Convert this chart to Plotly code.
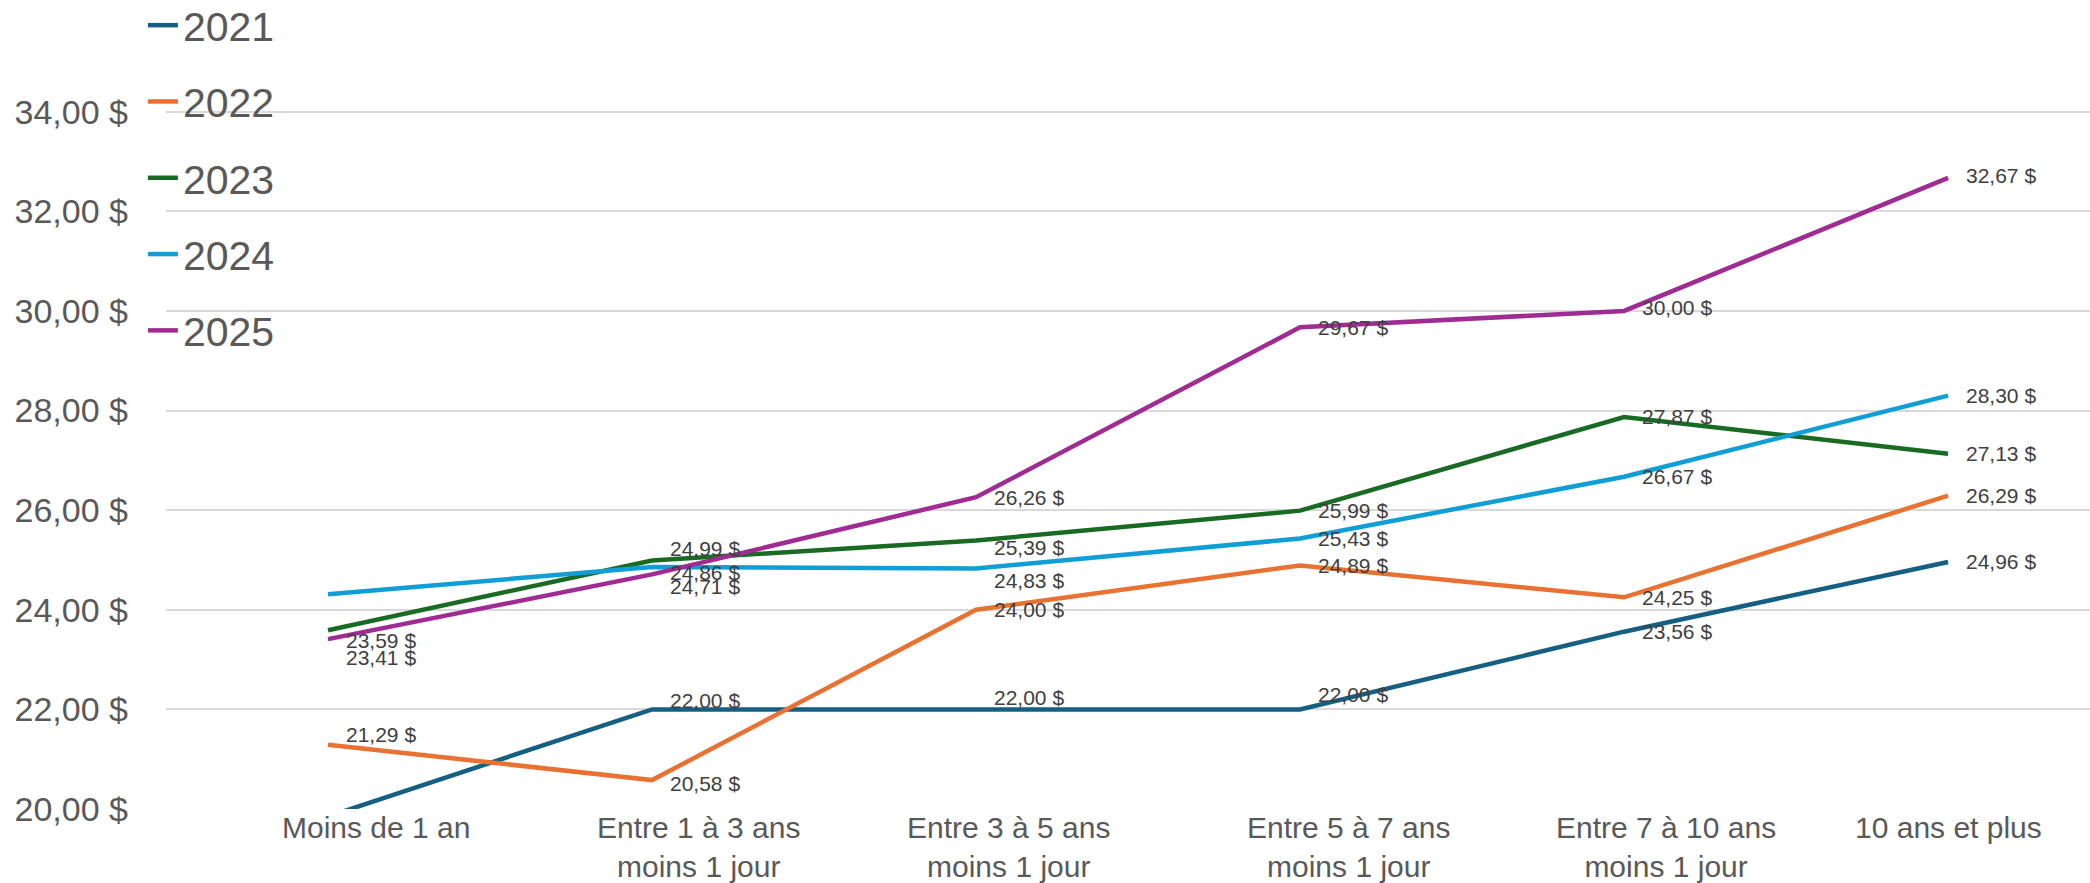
import plotly.graph_objects as go

# ---------- Data ----------
categories = [
    "Moins de 1 an",
    "Entre 1 à 3 ans<br>moins 1 jour",
    "Entre 3 à 5 ans<br>moins 1 jour",
    "Entre 5 à 7 ans<br>moins 1 jour",
    "Entre 7 à 10 ans<br>moins 1 jour",
    "10 ans et plus",
]

years = ["2021", "2022", "2023", "2024", "2025"]

y2021 = [19.85, 22.00, 22.00, 22.00, 23.56, 24.96]
y2022 = [21.29, 20.58, 24.00, 24.89, 24.25, 26.29]
y2023 = [23.59, 24.99, 25.39, 25.99, 27.87, 27.13]
y2024 = [24.31, 24.86, 24.83, 25.43, 26.67, 28.30]
y2025 = [23.41, 24.71, 26.26, 29.67, 30.00, 32.67]

y_ticks = [20, 22, 24, 26, 28, 30, 32, 34]

# ---------- Style ----------
COLORS = {
    "2021": "#156082",
    "2022": "#E97132",
    "2023": "#196B24",
    "2024": "#0F9ED5",
    "2025": "#A02B93",
}
FONT = "Liberation Sans, Arial, sans-serif"
GRID = "#d9d9d9"
TICK_COL = "#595959"
LABEL_COL = "#404040"

# points that carry no value label in the original (off-scale / hidden)
_NO_LABEL = {("2021", 0), ("2024", 0)}
# vertical nudges (px, + is down) to mimic the original label placement
_NUDGE = {
    ("2021", 1): -9, ("2021", 2): -12, ("2021", 3): -15,
    ("2022", 0): -10, ("2022", 1): 3,
    ("2023", 0): 10, ("2023", 1): -12, ("2023", 2): 7,
    ("2024", 1): 6, ("2024", 2): 12,
    ("2025", 0): 18, ("2025", 1): 12, ("2025", 4): -3, ("2025", 5): -2,
}
# category labels sit a bit right of their point in the original, except the last
_CAT_SHIFT = [48, 46, 32, 48, 42, 0]


def _fmt(v):
    return f"{v:.2f}".replace(".", ",") + " $"


series = dict(zip(years, [y2021, y2022, y2023, y2024, y2025]))

fig = go.Figure()
annotations = []
for yr, vals in series.items():
    fig.add_trace(go.Scatter(
        x=categories, y=vals, name=yr, mode="lines",
        line=dict(color=COLORS[yr], width=4.5),
        legendgroup=yr,
    ))
    for i, v in enumerate(vals):
        if (yr, i) in _NO_LABEL:
            continue
        annotations.append(dict(
            x=categories[i], y=v, text=_fmt(v), showarrow=False,
            xanchor="left", yanchor="middle", xshift=16,
            yshift=-_NUDGE.get((yr, i), 0),
            font=dict(family=FONT, size=21, color=LABEL_COL),
        ))

# category axis labels (drawn as annotations so each can be placed like the original)
for cat, dx in zip(categories, _CAT_SHIFT):
    annotations.append(dict(
        x=cat, xref="x", y=0, yref="paper", text=cat, showarrow=False,
        xanchor="center", yanchor="top", xshift=dx, yshift=0,
        align="center",
        font=dict(family=FONT, size=30, color=TICK_COL),
    ))

fig.update_layout(
    width=2090, height=883,
    paper_bgcolor="white", plot_bgcolor="white",
    # legend sits partly above the plot; don't let it push the margins
    margin=dict(l=166, r=0, t=22, b=74, autoexpand=False),
    font=dict(family=FONT, color=TICK_COL),
    annotations=annotations,
    showlegend=True,
    legend=dict(
        x=-0.012, y=1.0381, xanchor="left", yanchor="top",
        bgcolor="rgba(0,0,0,0)", borderwidth=0,
        font=dict(family=FONT, size=41, color=TICK_COL),
        tracegroupgap=20, traceorder="grouped",
    ),
)

fig.update_xaxes(
    type="category", range=[-0.5, 5.438], automargin=False,
    showgrid=False, showline=False, zeroline=False, ticks="",
    showticklabels=False,
)
fig.update_yaxes(
    range=[20, 35.8], tickvals=y_ticks, automargin=False,
    ticktext=[_fmt(t) for t in y_ticks],
    showgrid=True, gridcolor=GRID, gridwidth=1.5,
    zeroline=False, showline=False, ticks="",
    ticklabelstandoff=37,
    tickfont=dict(family=FONT, size=34, color=TICK_COL),
)

# page body margin would offset the figure by 8px
fig.write_html(
    "out.html",
    config={"displayModeBar": False},
    post_script="document.body.style.margin='0';",
)
